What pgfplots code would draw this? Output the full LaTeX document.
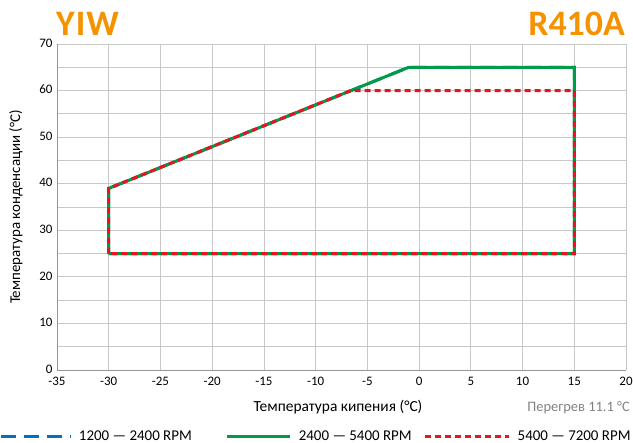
\documentclass[border=0pt]{standalone}
\usepackage{fontspec}
\setmainfont{Carlito}
\usepackage{pgfplots}
\pgfplotsset{compat=1.18}
\definecolor{orng}{RGB}{245,146,0}
\definecolor{cblue}{RGB}{0,112,192}
\definecolor{cgreen}{RGB}{0,155,72}
\definecolor{cred}{RGB}{235,20,30}
\definecolor{gridc}{RGB}{200,200,200}
\definecolor{axc}{RGB}{150,150,150}
\definecolor{txtgray}{RGB}{130,130,130}
\pgfplotsset{
  legimgA/.style={legend image code/.code={\draw[##1] (0bp,0bp) -- (70bp,0bp);}},
  legimgB/.style={legend image code/.code={\draw[##1] (0bp,0bp) -- (63bp,0bp);}},
  legimgC/.style={legend image code/.code={\draw[##1] (0bp,0bp) -- (84bp,0bp);}},
}
\begin{document}
\begin{tikzpicture}
\path[use as bounding box] (-57bp,-73bp) rectangle (576bp,370bp);
\begin{axis}[
  at={(0,0)}, anchor=south west,
  scale only axis, width=569bp, height=326bp,
  xmin=-35, xmax=20, ymin=0, ymax=70,
  xtick={-35,-30,...,20}, ytick={0,10,...,70},
  minor ytick={5,15,...,65},
  grid=both,
  major grid style={gridc, line width=0.8bp},
  minor grid style={gridc, line width=0.8bp},
  axis x line*=bottom, axis y line*=left,
  axis line style={axc, line width=0.8bp, -},
  major tick length=0pt, minor tick length=0pt,
  /pgf/number format/assume math mode=true,
  tick label style={font=\fontsize{13}{13}\selectfont},
  xticklabel style={yshift=-4bp},
  yticklabel style={xshift=-1bp, yshift=1bp},
  legend style={at={(axis description cs:-0.1002,-0.2025)}, anchor=west,
    draw=none, fill=none, inner sep=0pt, outer sep=0pt,
    font=\fontsize{15}{15}\selectfont, legend columns=3,
    /tikz/column 1/.style={column sep=4bp},
    /tikz/column 2/.style={column sep=32bp},
    /tikz/column 3/.style={column sep=5bp},
    /tikz/column 4/.style={column sep=10bp},
    /tikz/column 5/.style={column sep=5bp}},
  legend cell align=left,
]
\addplot[cblue, line width=3bp, dash pattern=on 15bp off 8bp, legimgA]
  coordinates {(-30,25) (-30,39) (-1,65) (15,65) (15,25) (-30,25)};
\addlegendentry{1200 — 2400 RPM}
\addplot[cgreen, line width=3bp, legimgB]
  coordinates {(-30,25) (-30,39) (-1,65) (15,65) (15,25) (-30,25)};
\addlegendentry{2400 — 5400 RPM}
\addplot[cred, line width=3bp, dash pattern=on 6bp off 4bp, legimgC]
  coordinates {(-30,25) (-30,39) (-6.6,60) (15,60) (15,25) (-30,25)};
\addlegendentry{5400 — 7200 RPM}
\end{axis}
\node[anchor=base west, text=orng, font=\bfseries\fontsize{36}{36}\selectfont, inner sep=0pt] at (-1bp,334bp) {Y\kern1bp I\kern1bp W};
\node[anchor=base east, text=orng, font=\bfseries\fontsize{36}{36}\selectfont, inner sep=0pt] at (568bp,334bp) {R410A};
\node[anchor=base, font=\fontsize{15.5}{15.5}\selectfont, inner sep=0pt] at (281bp,-41bp) {Температура кипения (°C)};
\node[anchor=base east, text=txtgray, font=\fontsize{14.5}{14.5}\selectfont, inner sep=0pt] at (573bp,-41bp) {Перегрев 11.1 °C};
\node[rotate=90, font=\fontsize{15}{15}\selectfont, inner sep=0pt] at (-41bp,163bp) {Температура конденсации (°C)};
\end{tikzpicture}
\end{document}
